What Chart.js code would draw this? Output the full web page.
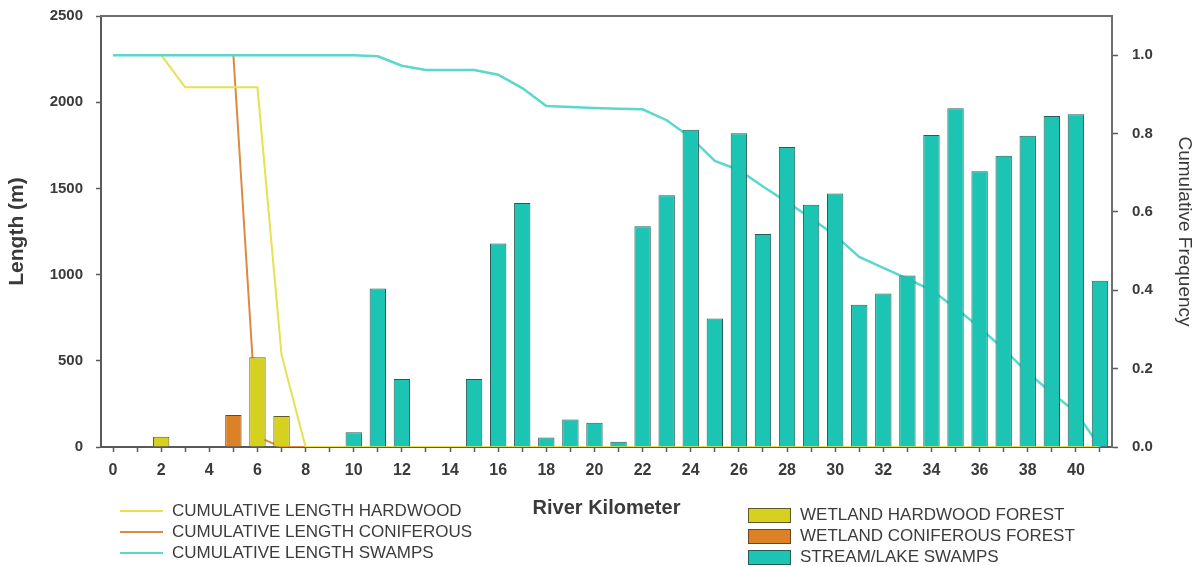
<!DOCTYPE html>
<html>
<head>
<meta charset="utf-8">
<script src="https://cdn.jsdelivr.net/npm/chart.js@4.4.1/dist/chart.umd.min.js"></script>
<style>
html, body { margin: 0; padding: 0; background: #fff; }
#wrap { position: relative; width: 1204px; height: 567px; }
#wrap canvas { position: absolute; left: 0; top: 0; }
.lg { position: absolute; font-family: "Liberation Sans", Arial, sans-serif; font-size: 17px; color: #3c3c3c; white-space: nowrap; }
.lg span { position: absolute; top: 50%; transform: translateY(-50%); }
</style>
</head>
<body>
<div id="wrap">
	<canvas id="myChart" width="1204" height="567"></canvas>
</div>
<script>
// river kilometer categories
var kilometers = ['0', '1', '2', '3', '4', '5', '6', '7', '8', '9', '10', '11', '12', '13', '14', '15', '16', '17', '18', '19', '20',
	'21', '22', '23', '24', '25', '26', '27', '28', '29', '30', '31', '32', '33', '34', '35', '36', '37', '38', '39', '40', '41']

// bar lengths (m), one value per kilometer
var hardwoodLength = [null, null, 60, null, null, null, 520, 180, null, null, null, null, null, null, null, null, null, null, null, null, null,
	null, null, null, null, null, null, null, null, null, null, null, null, null, null, null, null, null, null, null, null, null]
var coniferousLength = [null, null, null, null, null, 185, null, null, null, null, null, null, null, null, null, null, null, null, null, null, null,
	null, null, null, null, null, null, null, null, null, null, null, null, null, null, null, null, null, null, null, null, null]
var swampLength = [null, null, null, null, null, null, null, null, null, null, 85, 920, 395, null, null, 395, 1180, 1415, 55, 160, 140,
	30, 1280, 1460, 1840, 745, 1820, 1235, 1740, 1405, 1470, 825, 890, 995, 1810, 1965, 1600, 1690, 1805, 1920, 1930, 965]

// cumulative frequency curves
var cumHardwood = [null, null, 1.0, 0.918, 0.918, 0.918, 0.918, 0.235, 0, 0, 0, 0, 0, 0, 0, 0, 0, 0, 0, 0, 0,
	0, 0, 0, 0, 0, 0, 0, 0, 0, 0, 0, 0, 0, 0, 0, 0, 0, 0, 0, 0, 0]
var cumConiferous = [null, null, null, null, null, 1.0, 0.026, 0, 0, 0, 0, 0, 0, 0, 0, 0, 0, 0, 0, 0, 0,
	0, 0, 0, 0, 0, 0, 0, 0, 0, 0, 0, 0, 0, 0, 0, 0, 0, 0, 0, 0, 0]
var cumSwamps = [1.0, 1.0, 1.0, 1.0, 1.0, 1.0, 1.0, 1.0, 1.0, 1.0, 1.0, 0.997, 0.973, 0.962, 0.962, 0.962, 0.95, 0.916, 0.87, 0.868, 0.865,
	0.863, 0.862, 0.834, 0.79, 0.73, 0.707, 0.665, 0.625, 0.584, 0.54, 0.485, 0.457, 0.43, 0.4, 0.355, 0.305, 0.25, 0.19, 0.138, 0.089, 0]

var lengthTicks = [0, 500, 1000, 1500, 2000, 2500]

var font = '"Liberation Sans", Arial, sans-serif'
var axisGray = '#5a5a5a'

var topFrame = {
	id: 'topFrame',
	afterDatasetsDraw (chart) {
		var a = chart.chartArea
		var ctx = chart.ctx
		ctx.save()
		ctx.strokeStyle = '#6e6e6e'
		ctx.lineWidth = 2
		ctx.beginPath()
		ctx.moveTo(a.left - 1, a.top)
		ctx.lineTo(a.right + 1, a.top)
		ctx.stroke()
		ctx.restore()
	}
}

// keep the vertical axes from pushing the plot top down
function fitSide (width) {
	return (s) => {
		s.width = width
		s.paddingTop = 0
		s.paddingBottom = 0
	}
}

var ctx = document.getElementById('myChart').getContext('2d')
var myChart = new Chart(ctx, {
	type: 'bar',
	data: {
		labels: kilometers,
		datasets: [{
			type: 'line',
			label: 'CUMULATIVE LENGTH HARDWOOD',
			data: cumHardwood,
			yAxisID: 'y1',
			borderColor: '#e8e050',
			borderWidth: 2,
			pointRadius: 0,
			order: 3
		}, {
			type: 'line',
			label: 'CUMULATIVE LENGTH CONIFEROUS',
			data: cumConiferous,
			yAxisID: 'y1',
			borderColor: '#dc8a40',
			borderWidth: 2,
			pointRadius: 0,
			order: 4
		}, {
			type: 'line',
			label: 'CUMULATIVE LENGTH SWAMPS',
			data: cumSwamps,
			yAxisID: 'y1',
			borderColor: '#5ad8cc',
			borderWidth: 2.5,
			pointRadius: 0,
			order: 2
		}, {
			label: 'WETLAND HARDWOOD FOREST',
			data: hardwoodLength,
			backgroundColor: '#d6d01e',
			borderColor: '#5e5c22',
			borderWidth: 1,
			order: 1
		}, {
			label: 'WETLAND CONIFEROUS FOREST',
			data: coniferousLength,
			backgroundColor: '#dc8226',
			borderColor: '#6e4520',
			borderWidth: 1,
			order: 1
		}, {
			label: 'STREAM/LAKE SWAMPS',
			data: swampLength,
			backgroundColor: '#1cc4b3',
			borderColor: '#2a5c56',
			borderWidth: 1,
			order: 1
		}]
	},
	options: {
		responsive: false,
		animation: false,
		layout: { padding: { top: 16, left: 0, right: 0, bottom: 0 } },
		datasets: {
			bar: {
				grouped: false,
				categoryPercentage: 1,
				barPercentage: 0.68
			}
		},
		plugins: {
			legend: { display: false },
			tooltip: { enabled: false }
		},
		scales: {
			x: {
				offset: true,
				grid: { offset: false, drawOnChartArea: false, tickLength: 5, tickColor: axisGray, tickWidth: 1.5 },
				border: { color: axisGray, width: 2 },
				ticks: {
					autoSkip: false,
					maxRotation: 0,
					padding: 9,
					color: '#3a3a3a',
					font: { family: font, size: 16, weight: 'bold' },
					callback: function (value, index) {
						return index % 2 === 0 ? this.getLabelForValue(value) : ''
					}
				},
				title: {
					display: true,
					text: 'River Kilometer',
					color: '#3a3a3a',
					font: { family: font, size: 20, weight: 'bold' },
					padding: { top: 0, bottom: 47 }
				},
				afterFit: (s) => { s.height = 120 }
			},
			y: {
				position: 'left',
				min: 0,
				max: 2500,
				afterBuildTicks: (s) => { s.ticks = lengthTicks.map(v => ({ value: v })) },
				grid: { drawOnChartArea: false, tickLength: 5, tickColor: axisGray, tickWidth: 1.5 },
				border: { color: axisGray, width: 2 },
				ticks: {
					padding: 13,
					color: '#3a3a3a',
					font: { family: font, size: 15, weight: 'bold' },
					callback: (v) => String(v)
				},
				title: {
					display: true,
					text: 'Length (m)',
					color: '#3a3a3a',
					font: { family: font, size: 21, weight: 'bold' },
					padding: { top: 5, bottom: 0 }
				},
				afterFit: fitSide(101)
			},
			y1: {
				position: 'right',
				min: 0,
				max: 1.1,
				afterBuildTicks: (s) => { s.ticks = s.ticks.filter(t => t.value <= 1.0001) },
				grid: { drawOnChartArea: false, tickLength: 6, tickColor: axisGray, tickWidth: 1.5 },
				border: { color: '#6e6e6e', width: 2 },
				ticks: {
					stepSize: 0.2,
					padding: 14,
					color: '#3a3a3a',
					font: { family: font, size: 15, weight: 'bold' },
					callback: (v) => v.toFixed(1)
				},
				title: {
					display: true,
					text: 'Cumulative Frequency',
					color: '#3a3a3a',
					font: { family: font, size: 19 },
					padding: { top: 8, bottom: 0 }
				},
				afterFit: fitSide(92)
			}
		}
	},
	plugins: [topFrame]
})

// legends in two columns on either side of the axis title
var wrap = document.getElementById('wrap')
var lineRows = [511, 532, 553]
var boxRows = [515, 536, 557]
myChart.data.datasets.forEach((ds, i) => {
	var item = document.createElement('div')
	item.className = 'lg'
	var sample = document.createElement('div')
	sample.style.position = 'absolute'
	var text = document.createElement('span')
	text.textContent = ds.label
	if (ds.type === 'line') {
		item.style.left = '120px'
		item.style.top = (lineRows[i] - 10) + 'px'
		item.style.height = '20px'
		sample.style.left = '0px'
		sample.style.top = '9px'
		sample.style.width = '43px'
		sample.style.height = '2px'
		sample.style.background = ds.borderColor
		text.style.left = '52px'
	} else {
		item.style.left = '748px'
		item.style.top = (boxRows[i - 3] - 10) + 'px'
		item.style.height = '20px'
		sample.style.left = '0px'
		sample.style.top = '3px'
		sample.style.width = '41px'
		sample.style.height = '13px'
		sample.style.background = ds.backgroundColor
		sample.style.border = '1px solid ' + ds.borderColor
		text.style.left = '52px'
	}
	item.appendChild(sample)
	item.appendChild(text)
	wrap.appendChild(item)
})
</script>
</body>
</html>
